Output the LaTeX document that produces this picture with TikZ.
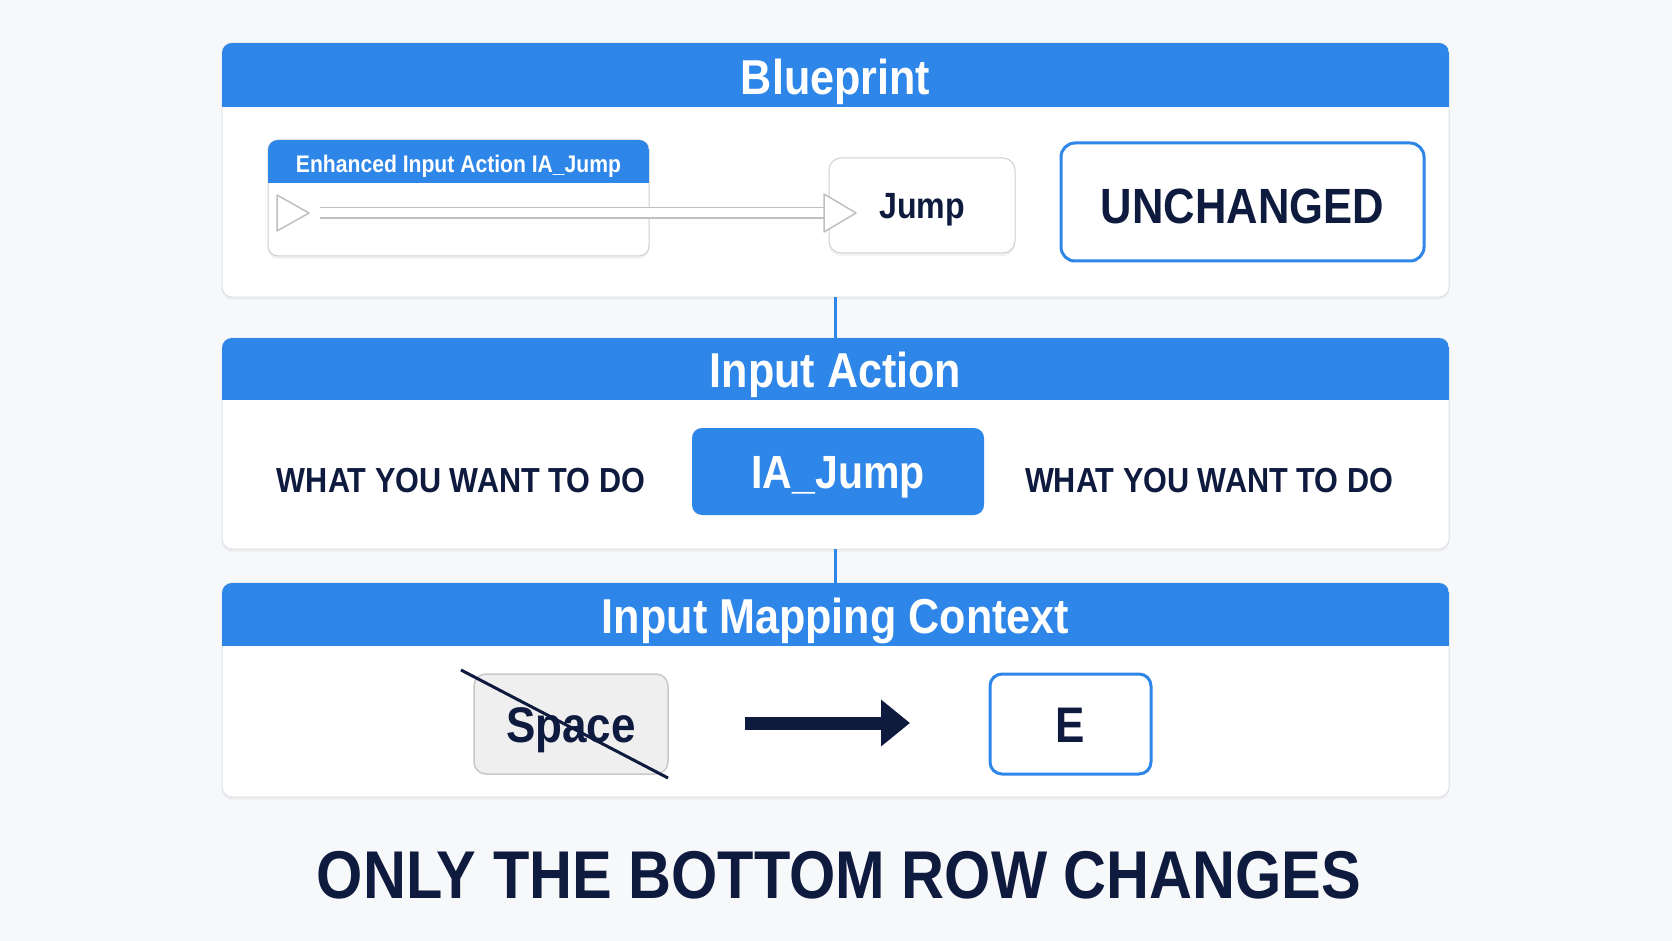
\documentclass[tikz,border=0pt]{standalone}
\usepackage{fontspec}
\setmainfont{Liberation Sans}[FakeStretch=0.88]
\usetikzlibrary{arrows.meta,shadows,calc}
\definecolor{bgc}{RGB}{247,248,250}
\definecolor{hblue}{RGB}{46,134,232}
\definecolor{navy}{RGB}{14,26,62}
\definecolor{pborder}{RGB}{222,225,230}
\definecolor{nborder}{RGB}{205,207,210}
\definecolor{keygray}{RGB}{239,239,239}
\definecolor{keyborder}{RGB}{200,200,200}
\definecolor{wiregray}{RGB}{192,192,192}
\newcommand{\fsz}[1]{\fontsize{#1}{#1}\selectfont\bfseries}
\begin{document}
\begin{tikzpicture}[x=1pt,y=-1pt,
  panel/.style={draw=pborder, line width=1pt, fill=white, rounded corners=10pt,
    outer sep=0pt, inner sep=0pt,
    drop shadow={opacity=0.07, shadow xshift=0pt, shadow yshift=-3pt}},
  hdrtext/.style={text=white, inner sep=0pt, anchor=base},
  bodytext/.style={text=navy, inner sep=0pt, anchor=base},
  bpnode/.style={draw=nborder, line width=1pt, fill=white, outer sep=0pt, inner sep=0pt,
    drop shadow={opacity=0.1, shadow xshift=0pt, shadow yshift=-3pt}},
  pinshape/.style={draw=wiregray, line width=1.5pt, fill=white, line join=round},
  wire/.style={draw=wiregray, line width=1.2pt, double=white, double distance=9pt},
  bluebox/.style={draw=hblue, line width=3pt, fill=white, text=navy, inner sep=0pt},
  conn/.style={draw=hblue, line width=3pt},
  bigarrow/.style={draw=navy, line width=13pt, -{Triangle[length=29pt,width=45pt]}},
  strike/.style={draw=navy, line width=3pt}
]
\useasboundingbox (0,0) rectangle (1672,941);
\fill[bgc] (0,0) rectangle (1672,941);

% panels
\node[panel, minimum width=1227pt, minimum height=254pt] (p1) at (835.5,170) {};
\node[panel, minimum width=1227pt, minimum height=211pt] (p2) at (835.5,443.5) {};
\node[panel, minimum width=1227pt, minimum height=214pt] (p3) at (835.5,690) {};

% headers
\begin{scope}
\clip[rounded corners=10pt] (p1.north west) rectangle (p1.south east);
\fill[hblue] (p1.north west) rectangle ($(p1.north east)+(0,64)$);
\end{scope}
\begin{scope}
\clip[rounded corners=10pt] (p2.north west) rectangle (p2.south east);
\fill[hblue] (p2.north west) rectangle ($(p2.north east)+(0,62)$);
\end{scope}
\begin{scope}
\clip[rounded corners=10pt] (p3.north west) rectangle (p3.south east);
\fill[hblue] (p3.north west) rectangle ($(p3.north east)+(0,63)$);
\end{scope}
\node[hdrtext, font=\fsz{49}] (t1) at (835.5,95) {Blueprint};
\node[hdrtext, font=\fsz{49}] (t2) at (835.5,387) {Input Action};
\node[hdrtext, font=\fsz{49}] (t3) at (835.5,633) {Input Mapping Context};

% connectors between panels
\draw[conn] (p1.south) -- (p2.north);
\draw[conn] (p2.south) -- (p3.north);

% Blueprint panel
\node[bpnode, rounded corners=10pt, minimum width=381pt, minimum height=116pt] (eia) at (458.5,198) {};
\begin{scope}
\clip[rounded corners=10pt] (eia.north west) rectangle (eia.south east);
\fill[hblue] (eia.north west) rectangle ($(eia.north east)+(0,43)$);
\end{scope}
\node[hdrtext, font=\fsz{24}] (eiat) at (458.5,173) {Enhanced Input Action IA\_Jump};
\node[bpnode, rounded corners=12pt, minimum width=186pt, minimum height=95pt,
  text=navy, font=\fsz{36.5}, text height=26pt, text depth=0pt] (jump) at (922,205.5) {Jump};
\coordinate (wstart) at (320,213);
\coordinate (wend) at (826,213);
\draw[wire] (wstart) -- (wend);
\draw[pinshape] (277,195) -- (309,213) -- (277,231) -- cycle;
\draw[pinshape] (824,194) -- (856,213) -- (824,232) -- cycle;
\node[bluebox, rounded corners=14pt, minimum width=363pt, minimum height=118pt,
  font=\fsz{49.5}, text height=43.5pt, text depth=0pt] (unch) at (1242.5,202) {UNCHANGED};

% Input Action panel
\node[bodytext, font=\fsz{34.8}] (wl) at (461,492.5) {WHAT YOU WANT TO DO};
\node[fill=hblue, rounded corners=10pt, minimum width=292pt, minimum height=87pt,
  inner sep=0pt, text=white, font=\fsz{46.6}, text height=33.5pt, text depth=0pt] (ia) at (838,471.5) {IA\_Jump};
\node[bodytext, font=\fsz{34.8}] (wr) at (1209,492.5) {WHAT YOU WANT TO DO};

% Mapping panel
\node[draw=keyborder, line width=1.5pt, fill=keygray, rounded corners=12pt,
  minimum width=194pt, minimum height=100pt, inner sep=0pt, text=navy,
  font=\fsz{50}, text height=36pt, text depth=0pt] (space) at (571,724) {Space};
\coordinate (s1) at (461,670);
\coordinate (s2) at (668,778);
\draw[strike] (s1) -- (s2);
\coordinate (a1) at (745,723);
\coordinate (a2) at (910,723);
\draw[bigarrow] (a1) -- (a2);
\node[bluebox, rounded corners=12pt, minimum width=161pt, minimum height=100pt,
  font=\fsz{50}, text height=36pt, text depth=0pt] (ekey) at (1070.5,724) {E};

% caption
\node[bodytext, font=\fsz{67.6}] (cap) at (839,898) {ONLY THE BOTTOM ROW CHANGES};
\end{tikzpicture}
\end{document}
